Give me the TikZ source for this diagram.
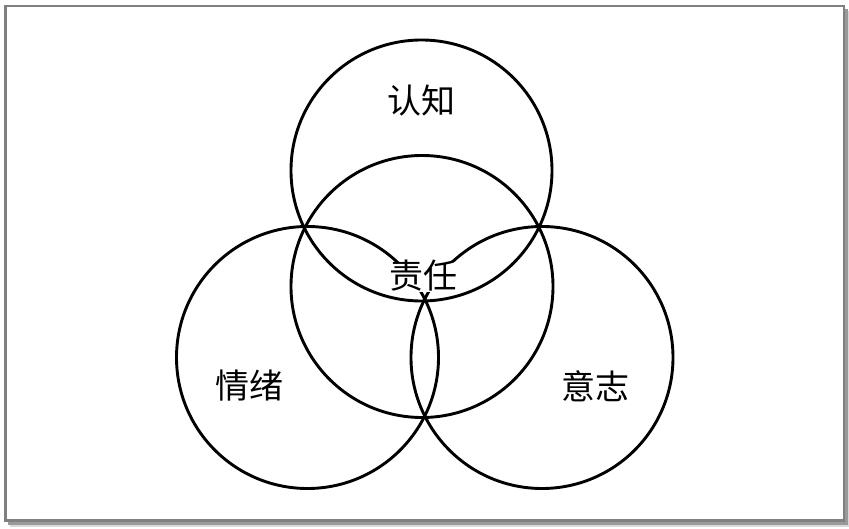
\documentclass[tikz,border=0pt]{standalone}
\usepackage{fontspec}
\newfontfamily\cjk{Noto Sans CJK SC}
\tikzset{
  ring/.style={draw=black, line width=2.9pt},
  lbl/.style={font=\cjk\fontsize{34}{34}\selectfont, inner sep=0pt},
}
\begin{document}
\begin{tikzpicture}[x=1pt,y=-1pt]
\useasboundingbox (0,0) rectangle (849,529);
% frame with shadow
\fill[black!15] (10,11) rectangle (849,527);
\fill[black!40] (8,9) rectangle (847.5,524.5);
\filldraw[fill=white, draw=black!50, line width=2.5pt] (5.5,6) rectangle (844,520.5);
% circles
\node[ring, circle, minimum size=261pt, inner sep=0pt] (top) at (421.5,170.5) {};
\node[ring, circle, minimum size=262pt, inner sep=0pt] (mid) at (422,286.5) {};
\node[ring, circle, minimum size=262pt, inner sep=0pt] (left) at (307.5,357.5) {};
\node[ring, circle, minimum size=262pt, inner sep=0pt] (right) at (542,357.5) {};
% labels
\node[lbl] (cog) at (421,101) {认知};
\node[lbl] (emo) at (249,386) {情绪};
\node[lbl] (will) at (595,386) {意志};
\node[lbl, fill=white, inner xsep=1pt, text height=27pt, text depth=3pt] (resp) at (423,277) {责任};
\end{tikzpicture}
\end{document}
